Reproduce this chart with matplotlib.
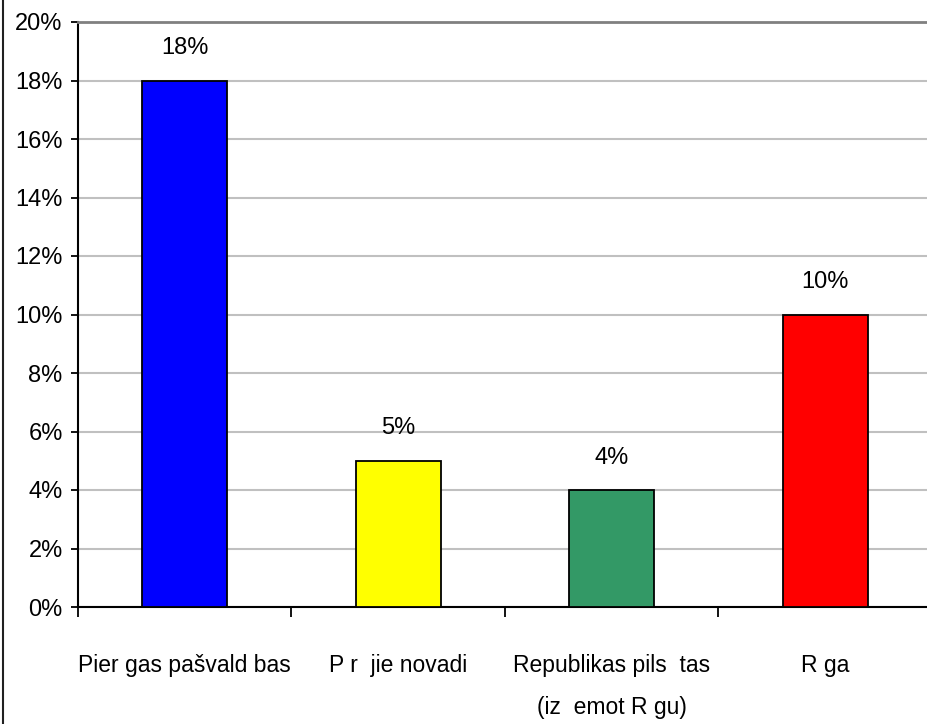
import numpy as np
import matplotlib
matplotlib.use("Agg")
import matplotlib.pyplot as plt
from matplotlib.lines import Line2D

# Data
categories = ['Pier gas pašvald bas', 'P r  jie novadi',
              'Republikas pils  tas\n(iz  emot R gu)', 'R ga']
values = [18, 5, 4, 10]
bar_colors = ['#0000FF', '#FFFF00', '#339966', '#FF0000']
y_ticks = [0, 2, 4, 6, 8, 10, 12, 14, 16, 18, 20]

plt.rcParams['font.family'] = ['Liberation Sans', 'DejaVu Sans']
FS = 17

fig = plt.figure(figsize=(9.28, 7.24), dpi=100)
ax = fig.add_axes([78 / 928, 117 / 724, 854 / 928, 585 / 724])

x = np.arange(len(categories))
ax.bar(x, values, width=0.4, color=bar_colors, edgecolor='black',
       linewidth=1.3, zorder=3)

# Value labels above bars
for xi, v in zip(x, values):
    ax.annotate(f'{v}%', xy=(xi, v), xytext=(0, 19), textcoords='offset points',
                ha='center', va='baseline', fontsize=FS)

ax.set_xlim(-0.5, len(categories) - 0.5)
ax.set_ylim(0, 20)

# y axis
ax.set_yticks(y_ticks)
ax.set_yticklabels([f'{t}%' for t in y_ticks], fontsize=FS)
ax.tick_params(axis='y', direction='out', length=5, width=1.3, pad=6)
ax.yaxis.grid(True, color='#c0c0c0', linewidth=1.5, zorder=0)
ax.set_axisbelow(True)

# x axis: ticks at category boundaries, labels at centres
ax.set_xticks(np.arange(len(categories) + 1) - 0.5)
ax.set_xticklabels([''] * (len(categories) + 1))
ax.tick_params(axis='x', which='major', direction='out', length=7, width=1.3)
ax.set_xticks(x, minor=True)
ax.set_xticklabels(categories, minor=True, fontsize=16.5, linespacing=2.05)
ax.tick_params(axis='x', which='minor', length=0, pad=34)

for side in ['left', 'bottom']:
    ax.spines[side].set_color('black')
    ax.spines[side].set_linewidth(1.5)
ax.spines['top'].set_color('#808080')
ax.spines['top'].set_linewidth(2)
ax.spines['right'].set_color('#808080')

# thin frame line at the left edge of the picture
fig.add_artist(Line2D([3 / 928, 3 / 928], [0, 1], color='#202020', linewidth=1.5))

fig.savefig('out.png', dpi=100)
